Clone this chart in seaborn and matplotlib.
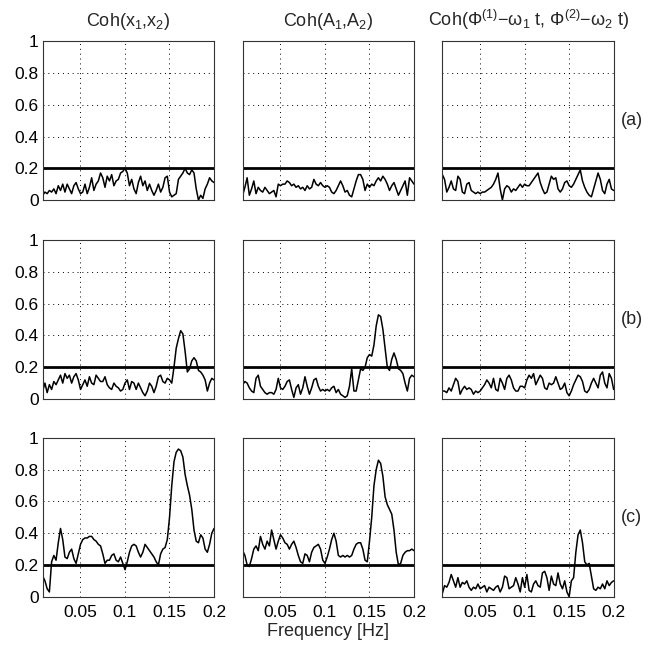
import numpy as np
import pandas as pd
import matplotlib
matplotlib.use('Agg')
import matplotlib.pyplot as plt
import seaborn as sns

# ─── Data ─────────────────────────────────────────────────────────────────────

F_MIN, F_MAX = 0.0078, 0.2
N_PTS = 78
freq = np.linspace(F_MIN, F_MAX, N_PTS)   # regular frequency grid of the estimate

threshold = 0.2

coh_x_a = [0.03, 0.05, 0.04, 0.06, 0.05, 0.07, 0.04, 0.09, 0.06, 0.10,
           0.05, 0.10, 0.07, 0.04, 0.09, 0.11, 0.07, 0.04, 0.05, 0.10,
           0.04, 0.08, 0.14, 0.06, 0.10, 0.12, 0.17, 0.14, 0.08, 0.15,
           0.12, 0.16, 0.09, 0.12, 0.13, 0.17, 0.18, 0.20, 0.17, 0.09,
           0.13, 0.07, 0.04, 0.11, 0.15, 0.09, 0.12, 0.06, 0.10, 0.06,
           0.03, 0.06, 0.10, 0.05, 0.08, 0.14, 0.15, 0.05, 0.02, 0.03,
           0.04, 0.13, 0.15, 0.17, 0.20, 0.17, 0.16, 0.19, 0.17, 0.07,
           0.00, 0.03, 0.01, 0.07, 0.10, 0.14, 0.12, 0.11]
coh_A_a = [0.03, 0.08, 0.14, 0.03, 0.07, 0.12, 0.04, 0.08, 0.06, 0.05,
           0.08, 0.06, 0.04, 0.05, 0.06, 0.02, 0.10, 0.09, 0.10, 0.10,
           0.12, 0.11, 0.09, 0.10, 0.08, 0.09, 0.07, 0.08, 0.06, 0.09,
           0.07, 0.08, 0.13, 0.10, 0.09, 0.11, 0.09, 0.08, 0.09, 0.08,
           0.05, 0.04, 0.06, 0.09, 0.12, 0.09, 0.05, 0.06, 0.03, 0.02,
           0.07, 0.12, 0.16, 0.16, 0.13, 0.06, 0.10, 0.08, 0.10, 0.09,
           0.12, 0.14, 0.12, 0.15, 0.13, 0.10, 0.06, 0.09, 0.11, 0.07,
           0.03, 0.06, 0.09, 0.12, 0.03, 0.14, 0.12, 0.10]
coh_P_a = [0.16, 0.13, 0.05, 0.08, 0.12, 0.07, 0.06, 0.15, 0.13, 0.05,
           0.04, 0.10, 0.11, 0.06, 0.05, 0.04, 0.05, 0.04, 0.05, 0.05,
           0.06, 0.07, 0.08, 0.10, 0.13, 0.17, 0.07, 0.00, 0.07, 0.09,
           0.08, 0.05, 0.07, 0.06, 0.08, 0.10, 0.08, 0.10, 0.09, 0.09,
           0.11, 0.13, 0.15, 0.17, 0.11, 0.07, 0.04, 0.05, 0.10, 0.15,
           0.13, 0.14, 0.07, 0.05, 0.07, 0.11, 0.12, 0.09, 0.08, 0.10,
           0.13, 0.16, 0.19, 0.12, 0.08, 0.05, 0.03, 0.02, 0.07, 0.12,
           0.17, 0.13, 0.06, 0.04, 0.10, 0.13, 0.07, 0.06]

coh_x_b = [0.05, 0.10, 0.04, 0.09, 0.06, 0.11, 0.09, 0.12, 0.15, 0.10,
           0.16, 0.13, 0.15, 0.10, 0.14, 0.16, 0.12, 0.06, 0.09, 0.12,
           0.08, 0.14, 0.10, 0.09, 0.15, 0.13, 0.11, 0.11, 0.14, 0.09,
           0.07, 0.06, 0.10, 0.08, 0.07, 0.05, 0.06, 0.10, 0.12, 0.06,
           0.11, 0.10, 0.06, 0.10, 0.07, 0.04, 0.02, 0.05, 0.10, 0.08,
           0.04, 0.08, 0.14, 0.15, 0.11, 0.10, 0.13, 0.12, 0.10, 0.20,
           0.32, 0.38, 0.43, 0.41, 0.30, 0.17, 0.19, 0.24, 0.26, 0.24,
           0.18, 0.17, 0.15, 0.12, 0.05, 0.10, 0.13, 0.12]
coh_A_b = [0.09, 0.11, 0.10, 0.07, 0.05, 0.04, 0.13, 0.15, 0.08, 0.06,
           0.04, 0.03, 0.04, 0.04, 0.03, 0.06, 0.13, 0.07, 0.06, 0.08,
           0.11, 0.12, 0.06, 0.01, 0.07, 0.09, 0.03, 0.07, 0.14, 0.08,
           0.03, 0.07, 0.12, 0.13, 0.08, 0.05, 0.06, 0.05, 0.06, 0.05,
           0.07, 0.08, 0.04, 0.06, 0.03, 0.02, 0.01, 0.02, 0.08, 0.19,
           0.05, 0.05, 0.12, 0.19, 0.18, 0.20, 0.26, 0.28, 0.27, 0.34,
           0.46, 0.53, 0.52, 0.44, 0.32, 0.20, 0.18, 0.25, 0.29, 0.25,
           0.19, 0.18, 0.16, 0.10, 0.05, 0.13, 0.15, 0.14]
coh_P_b = [0.05, 0.05, 0.04, 0.07, 0.05, 0.09, 0.13, 0.11, 0.03, 0.06,
           0.08, 0.06, 0.07, 0.06, 0.03, 0.05, 0.04, 0.05, 0.07, 0.09,
           0.12, 0.10, 0.07, 0.13, 0.06, 0.05, 0.13, 0.10, 0.06, 0.13,
           0.15, 0.12, 0.07, 0.05, 0.05, 0.08, 0.08, 0.07, 0.12, 0.15,
           0.13, 0.16, 0.09, 0.12, 0.15, 0.13, 0.07, 0.06, 0.10, 0.09,
           0.10, 0.14, 0.10, 0.06, 0.07, 0.10, 0.04, 0.02, 0.05, 0.09,
           0.12, 0.15, 0.14, 0.11, 0.05, 0.04, 0.06, 0.10, 0.13, 0.10,
           0.07, 0.15, 0.17, 0.10, 0.07, 0.16, 0.13, 0.06]

coh_x_c = [0.13, 0.10, 0.05, 0.03, 0.22, 0.26, 0.23, 0.34, 0.43, 0.36,
           0.25, 0.24, 0.28, 0.30, 0.24, 0.21, 0.27, 0.33, 0.36, 0.37,
           0.37, 0.38, 0.38, 0.36, 0.35, 0.33, 0.32, 0.27, 0.21, 0.23,
           0.23, 0.26, 0.27, 0.23, 0.22, 0.25, 0.21, 0.17, 0.22, 0.28,
           0.32, 0.33, 0.32, 0.28, 0.25, 0.28, 0.33, 0.31, 0.29, 0.27,
           0.25, 0.22, 0.20, 0.27, 0.30, 0.31, 0.36, 0.50, 0.70, 0.85,
           0.91, 0.93, 0.92, 0.88, 0.77, 0.70, 0.64, 0.55, 0.42, 0.35,
           0.34, 0.39, 0.37, 0.30, 0.28, 0.33, 0.40, 0.43]
coh_A_c = [0.29, 0.26, 0.20, 0.19, 0.24, 0.30, 0.32, 0.29, 0.38, 0.33,
           0.30, 0.35, 0.32, 0.42, 0.36, 0.30, 0.35, 0.39, 0.37, 0.34,
           0.33, 0.30, 0.33, 0.35, 0.31, 0.26, 0.22, 0.21, 0.27, 0.26,
           0.22, 0.28, 0.31, 0.32, 0.33, 0.30, 0.23, 0.21, 0.25, 0.30,
           0.36, 0.40, 0.35, 0.26, 0.25, 0.26, 0.25, 0.26, 0.25, 0.26,
           0.30, 0.33, 0.34, 0.34, 0.30, 0.23, 0.22, 0.35, 0.50, 0.70,
           0.80, 0.86, 0.84, 0.76, 0.63, 0.58, 0.55, 0.52, 0.42, 0.28,
           0.20, 0.21, 0.26, 0.28, 0.29, 0.29, 0.30, 0.29]
coh_P_c = [0.02, 0.07, 0.06, 0.09, 0.14, 0.10, 0.06, 0.12, 0.06, 0.09,
           0.08, 0.10, 0.06, 0.04, 0.06, 0.05, 0.08, 0.05, 0.06, 0.07,
           0.03, 0.06, 0.05, 0.04, 0.06, 0.07, 0.03, 0.06, 0.13, 0.12,
           0.05, 0.06, 0.07, 0.12, 0.08, 0.03, 0.12, 0.06, 0.14, 0.04,
           0.03, 0.08, 0.10, 0.07, 0.06, 0.15, 0.16, 0.12, 0.04, 0.13,
           0.08, 0.07, 0.15, 0.08, 0.05, 0.10, 0.03, 0.00, 0.10, 0.12,
           0.28, 0.39, 0.42, 0.34, 0.22, 0.20, 0.21, 0.13, 0.05, 0.04,
           0.06, 0.05, 0.08, 0.05, 0.10, 0.07, 0.09, 0.10]

col_titles = [r'Coh(x$_1$,x$_2$)',
              r'Coh(A$_1$,A$_2$)',
              r'Coh($\Phi^{(1)}$$-\omega_1$ t, $\Phi^{(2)}$$-\omega_2$ t)']
row_labels = ['(a)', '(b)', '(c)']
x_ticks = [0.05, 0.1, 0.15, 0.2]
x_ticklabels = ['0.05', '0.1', '0.15', '0.2']
y_ticks = [0, 0.2, 0.4, 0.6, 0.8, 1]
y_ticklabels = ['0', '0.2', '0.4', '0.6', '0.8', '1']

curves = [[coh_x_a, coh_A_a, coh_P_a],
          [coh_x_b, coh_A_b, coh_P_b],
          [coh_x_c, coh_A_c, coh_P_c]]

# ─── Style ────────────────────────────────────────────────────────────────────

sns.set_style('white')
plt.rcParams['font.family'] = ['Liberation Sans', 'DejaVu Sans']
plt.rcParams['mathtext.fontset'] = 'custom'
plt.rcParams['mathtext.rm'] = 'Liberation Sans'
plt.rcParams['mathtext.it'] = 'Liberation Sans'
plt.rcParams['mathtext.bf'] = 'Liberation Sans:bold'

TICK_FS = 12.5
TEXT_FS = 13

fig = plt.figure(figsize=(6.48, 6.46), dpi=100)

lefts = [0.0659, 0.3745, 0.6826]
bottoms = [0.6904, 0.3824, 0.0763]
W, H = 0.2644, 0.2457

for r in range(3):
    for c in range(3):
        ax = fig.add_axes([lefts[c], bottoms[r], W, H])
        df = pd.DataFrame({'f': freq, 'coh': curves[r][c]})
        sns.lineplot(data=df, x='f', y='coh', ax=ax, color='black', lw=1.1)
        ax.axhline(threshold, color='black', lw=2.0)

        ax.set_xlim(F_MIN, F_MAX)
        ax.set_ylim(0, 1)
        ax.set_xticks(x_ticks)
        ax.set_yticks(y_ticks)
        ax.grid(True, linestyle=(0, (1, 4)), color='black', lw=0.7)
        ax.tick_params(direction='in', length=3, width=0.6,
                       labelsize=TICK_FS, colors='black')
        ax.tick_params(axis='x', pad=6)
        ax.tick_params(axis='y', pad=3)
        ax.set_xlabel('')
        ax.set_ylabel('')

        if c == 0:
            ax.set_yticklabels(y_ticklabels)
        else:
            ax.set_yticklabels([])
        if r == 2:
            ax.set_xticklabels(x_ticklabels)
        else:
            ax.set_xticklabels([])

        for sp in ax.spines.values():
            sp.set_color('#333333')
            sp.set_linewidth(0.8)

        if r == 0:
            ax.set_title(col_titles[c], fontsize=TEXT_FS, pad=11)
        if c == 2:
            ax.text(1.04, 0.5, row_labels[r], transform=ax.transAxes,
                    fontsize=TEXT_FS, va='center', ha='left')
        if r == 2 and c == 1:
            ax.set_xlabel('Frequency [Hz]', fontsize=TEXT_FS, labelpad=2)

fig.savefig('out.png', dpi=100)
